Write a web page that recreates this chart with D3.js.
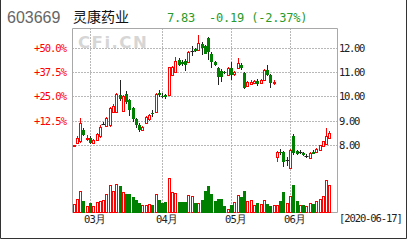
<!DOCTYPE html>
<html><head><meta charset="utf-8">
<script src="https://cdn.jsdelivr.net/npm/d3@7/dist/d3.min.js"></script>
<style>
html,body{margin:0;padding:0;background:#fff;}
svg{display:block;}
.mono{font-family:"DejaVu Sans Mono","Liberation Mono",monospace;}
</style></head>
<body>
<svg id="c" width="408" height="240"></svg>
<script>
// ---------- data ----------
const stockCode = "603669";
const stockName = "灵康药业";
const lastPrice = "7.83";
const change = "-0.19";
const changePct = "(-2.37%)";
const dateLabel = "[2020-06-17]";

const dates = [
 "2020-02-24","2020-02-25","2020-02-26","2020-02-27","2020-02-28",
 "2020-03-02","2020-03-03","2020-03-04","2020-03-05","2020-03-06","2020-03-09","2020-03-10","2020-03-11","2020-03-12","2020-03-13",
 "2020-03-16","2020-03-17","2020-03-18","2020-03-19","2020-03-20","2020-03-23","2020-03-24","2020-03-25","2020-03-26","2020-03-27","2020-03-30","2020-03-31",
 "2020-04-01","2020-04-02","2020-04-03","2020-04-07","2020-04-08","2020-04-09","2020-04-10","2020-04-13","2020-04-14","2020-04-15","2020-04-16","2020-04-17",
 "2020-04-20","2020-04-21","2020-04-22","2020-04-23","2020-04-24","2020-04-27","2020-04-28","2020-04-29","2020-04-30",
 "2020-05-06","2020-05-07","2020-05-08","2020-05-11","2020-05-12","2020-05-13","2020-05-14","2020-05-15","2020-05-18","2020-05-19","2020-05-20",
 "2020-05-21","2020-05-22","2020-05-25","2020-05-26","2020-05-27","2020-05-28","2020-05-29",
 "2020-06-01","2020-06-02","2020-06-03","2020-06-04","2020-06-05","2020-06-08","2020-06-09","2020-06-10","2020-06-11","2020-06-12","2020-06-15","2020-06-16","2020-06-17"
];
const open  = [7.95,8.08,8.15,8.62,8.26, 8.28,8.10,8.22,8.35,8.85,8.78,8.80,9.35,9.35,10.05, 9.40,10.10,9.85,9.50,9.05,8.82,8.62,8.90,9.05,9.32,9.36,10.12,
 10.02,10.05,10.05,10.88,11.00,11.48,11.42,11.45,11.40,11.85,11.92,11.90, 12.16,12.05,12.40,11.75,11.40,11.15,11.05,11.00,10.87,
 11.15,10.90,11.16,11.30,10.95,10.40,10.50,10.55,10.62,10.55,10.67,11.07,10.87,10.56,7.50,7.73,7.70,7.40,
 7.06,8.38,7.75,7.72,7.68,7.55,7.47,7.72,7.70,7.80,7.95,8.05,8.30];
const high  = [8.02,8.35,9.10,8.70,8.42, 8.35,8.25,8.50,8.80,8.95,9.15,9.55,9.70,10.15,10.65, 10.05,10.20,9.90,9.55,9.10,8.90,8.78,9.18,9.28,9.45,10.15,10.25,
 10.12,10.10,11.22,11.25,11.60,11.55,11.50,11.52,11.85,12.05,12.00,12.50, 12.22,12.10,12.45,11.80,11.45,11.20,11.10,11.05,11.20,
 11.40,11.02,11.57,11.38,11.00,10.62,10.65,10.68,10.70,10.70,11.10,11.28,10.90,10.68,7.75,7.85,7.75,7.50,
 7.85,8.45,7.78,7.78,7.72,7.62,7.70,7.78,7.88,8.02,8.18,8.70,8.58];
const low   = [7.90,8.05,8.10,8.35,8.18, 8.05,8.05,8.20,8.30,8.80,8.72,8.75,9.30,9.30,9.80, 9.35,9.70,9.20,8.95,8.70,8.55,8.58,8.85,9.00,9.15,9.30,9.98,
 9.92,9.90,10.00,10.85,10.95,11.25,11.25,11.05,11.38,11.65,11.80,11.88, 11.70,11.72,11.50,11.15,11.25,10.45,10.60,10.90,10.85,
 10.67,10.85,11.10,11.08,10.30,10.36,10.45,10.50,10.40,10.50,10.62,10.85,10.34,10.45,7.30,7.60,7.10,7.15,
 7.00,7.60,7.60,7.62,7.55,7.48,7.45,7.62,7.68,7.78,7.92,8.02,8.25];
const close = [7.98,8.30,8.90,8.42,8.28, 8.10,8.20,8.45,8.72,8.85,9.10,9.50,9.60,10.10,9.90, 10.00,9.75,9.45,9.05,8.80,8.62,8.74,9.15,9.22,9.26,10.10,10.05,
 10.00,9.96,11.20,11.20,11.45,11.30,11.33,11.30,11.80,11.85,11.87,12.20, 12.00,11.75,11.80,11.40,11.30,10.80,10.80,10.95,11.15,
 10.87,10.98,11.36,11.15,10.35,10.58,10.60,10.62,10.50,10.65,11.07,10.87,10.54,10.58,7.72,7.70,7.30,7.40,
 7.80,7.68,7.65,7.72,7.60,7.55,7.68,7.65,7.85,8.00,8.15,8.35,8.50];
const volume = [0.9,1.4,2.2,1.2,0.7, 1.0,0.7,1.1,1.25,1.3,1.9,2.8,2.2,2.9,2.7, 2.1,1.9,1.9,1.6,1.35,1.0,0.8,0.85,0.95,0.8,1.9,1.3,
 1.0,1.1,3.5,2.1,2.0,1.1,1.1,1.1,1.85,1.75,1.0,1.0, 1.35,2.2,2.7,1.95,1.2,1.45,1.45,0.7,0.45,
 0.85,1.1,1.85,1.6,2.2,1.2,1.3,0.8,1.0,0.9,1.35,0.9,0.75,0.8,0.8,1.25,2.1,1.0,
 1.75,2.85,1.25,0.85,0.8,0.7,0.97,0.9,1.25,1.4,1.75,3.3,2.8];

const priceTicks = [8, 9, 10, 11, 12];
const pctTicks = [0.125, 0.25, 0.375, 0.5];
const basePrice = 8;
const monthNames = {"03":"03月","04":"04月","05":"05月","06":"06月"};

// ---------- layout ----------
const L = 72, R = 337, T = 28, B = 212.5;
const RED = "#ff0000", GREEN = "#008000";
const svg = d3.select("#c");

const x = d3.scaleBand().domain(dates).range([L, 331]).paddingInner(0).paddingOuter(0);
const y = d3.scaleLinear().domain([8, 12]).range([145, 47.5]);
const yPct = d3.scaleLinear().domain([0, 0.5]).range([145, 47.5]);
const yVol = d3.scaleLinear().domain([0, 3.5]).range([213, 178]);
const cx = d => Math.round(x(d) + x.bandwidth() / 2);

// outer border
svg.append("path").attr("d", "M0.5,0 V238.5 H406.5 V0")
  .attr("fill", "none").attr("stroke", "#333").attr("stroke-width", 1);

// watermark
svg.append("text").attr("x", 78).attr("y", 48)
  .attr("font-family", "DejaVu Sans").attr("font-weight", "bold").attr("font-size", 16.5)
  .attr("letter-spacing", 1.5).attr("fill", "#d6d6d6").text("CFi.CN");

// grid horizontal
const gridH = svg.append("g");
priceTicks.forEach(p => {
  const yy = Math.round(y(p)) + 0.5;
  gridH.append("line").attr("x1", L).attr("x2", R).attr("y1", yy).attr("y2", yy)
    .attr("stroke", "#b8b8b8").attr("stroke-dasharray", "2,1");
});
// month gridlines
const monthStarts = [];
dates.forEach((d, i) => {
  if (i > 0 && d.slice(5, 7) !== dates[i - 1].slice(5, 7)) monthStarts.push(d);
});
monthStarts.forEach(d => {
  const xx = cx(d) + 0.5;
  svg.append("line").attr("x1", xx).attr("x2", xx).attr("y1", T).attr("y2", B)
    .attr("stroke", "#b8b8b8").attr("stroke-dasharray", "2,1");
  svg.append("text").attr("class", "mono").attr("x", xx + 4).attr("y", 219)
    .attr("dy", "0.35em").attr("text-anchor", "middle").attr("font-size", 10.5)
    .attr("letter-spacing", -0.8).attr("fill", "#222").text(monthNames[d.slice(5, 7)]);
});

// frame
svg.append("path").attr("d", `M${L + 0.5},${B} V${T + 0.5} H${R + 0.5} V${B} H${L + 0.5}`)
  .attr("fill", "none").attr("stroke", "#a8a8a8");

// right axis labels
priceTicks.forEach(p => {
  svg.append("text").attr("class", "mono").attr("x", 339).attr("y", Math.round(y(p)) + 0.5)
    .attr("dy", "0.35em").attr("font-size", 10.5).attr("letter-spacing", -1.3)
    .attr("fill", "#222").text(d3.format(".2f")(p));
});
// left axis labels
pctTicks.forEach(p => {
  svg.append("text").attr("class", "mono").attr("x", 66).attr("y", Math.round(yPct(p)) + 0.5)
    .attr("dy", "0.35em").attr("text-anchor", "end").attr("font-size", 10.5).attr("letter-spacing", -1.0)
    .attr("fill", RED).text("+" + d3.format(".1f")(p * 100) + "%");
});

// candles
const g = svg.append("g");
dates.forEach((d, i) => {
  const o = open[i], h = high[i], l = low[i], c = close[i];
  const xc = cx(d);
  const yTop = Math.round(y(Math.max(o, c)));
  const yBot = Math.round(y(Math.min(o, c)));
  const yH = Math.round(y(h)), yL = Math.round(y(l));
  if (c > o) {
    g.append("line").attr("x1", xc + 0.5).attr("x2", xc + 0.5).attr("y1", yH).attr("y2", yL).attr("stroke", RED);
    g.append("rect").attr("x", xc - 0.5).attr("y", yTop + 0.5).attr("width", 2)
      .attr("height", Math.max(yBot - yTop, 0)).attr("fill", "#fff").attr("stroke", RED);
  } else if (c < o) {
    g.append("line").attr("x1", xc + 0.5).attr("x2", xc + 0.5).attr("y1", yH).attr("y2", yL).attr("stroke", "#222");
    g.append("rect").attr("x", xc - 1).attr("y", yTop).attr("width", 3)
      .attr("height", Math.max(yBot - yTop, 1)).attr("fill", GREEN);
  } else {
    g.append("line").attr("x1", xc + 0.5).attr("x2", xc + 0.5).attr("y1", yH).attr("y2", yL).attr("stroke", "#222");
    g.append("line").attr("x1", xc - 1.5).attr("x2", xc + 2.5).attr("y1", yTop + 0.5).attr("y2", yTop + 0.5).attr("stroke", "#222");
  }
  // volume
  const vy = Math.round(yVol(volume[i]));
  if (c >= o) {
    g.append("rect").attr("x", xc - 0.5).attr("y", vy + 0.5).attr("width", 2)
      .attr("height", 212 - vy).attr("fill", "#fff").attr("stroke", RED);
  } else {
    g.append("rect").attr("x", xc - 1).attr("y", vy).attr("width", 3)
      .attr("height", 213 - vy).attr("fill", GREEN);
  }
});

// title
svg.append("text").attr("x", 7).attr("y", 23).attr("font-family", "Liberation Sans, Arial, sans-serif")
  .attr("font-size", 16).attr("fill", "#666").text(stockCode);
svg.append("text").attr("x", 73).attr("y", 22).attr("font-family", "Noto Sans CJK SC")
  .attr("font-size", 14).attr("fill", "#111").text(stockName);
svg.append("text").attr("class", "mono").attr("x", 167).attr("y", 22).attr("font-size", 12)
  .attr("letter-spacing", -0.2).attr("fill", "#2a9a2a").text(lastPrice);
svg.append("text").attr("class", "mono").attr("x", 209).attr("y", 22).attr("font-size", 12)
  .attr("letter-spacing", -0.2).attr("fill", "#2a9a2a").attr("xml:space", "preserve").text(change + " " + changePct);

// date label
svg.append("text").attr("class", "mono").attr("x", 339).attr("y", 218.5).attr("dy", "0.35em")
  .attr("font-size", 10.5).attr("letter-spacing", -1.1).attr("fill", "#222").text(dateLabel);
</script>
</body></html>
